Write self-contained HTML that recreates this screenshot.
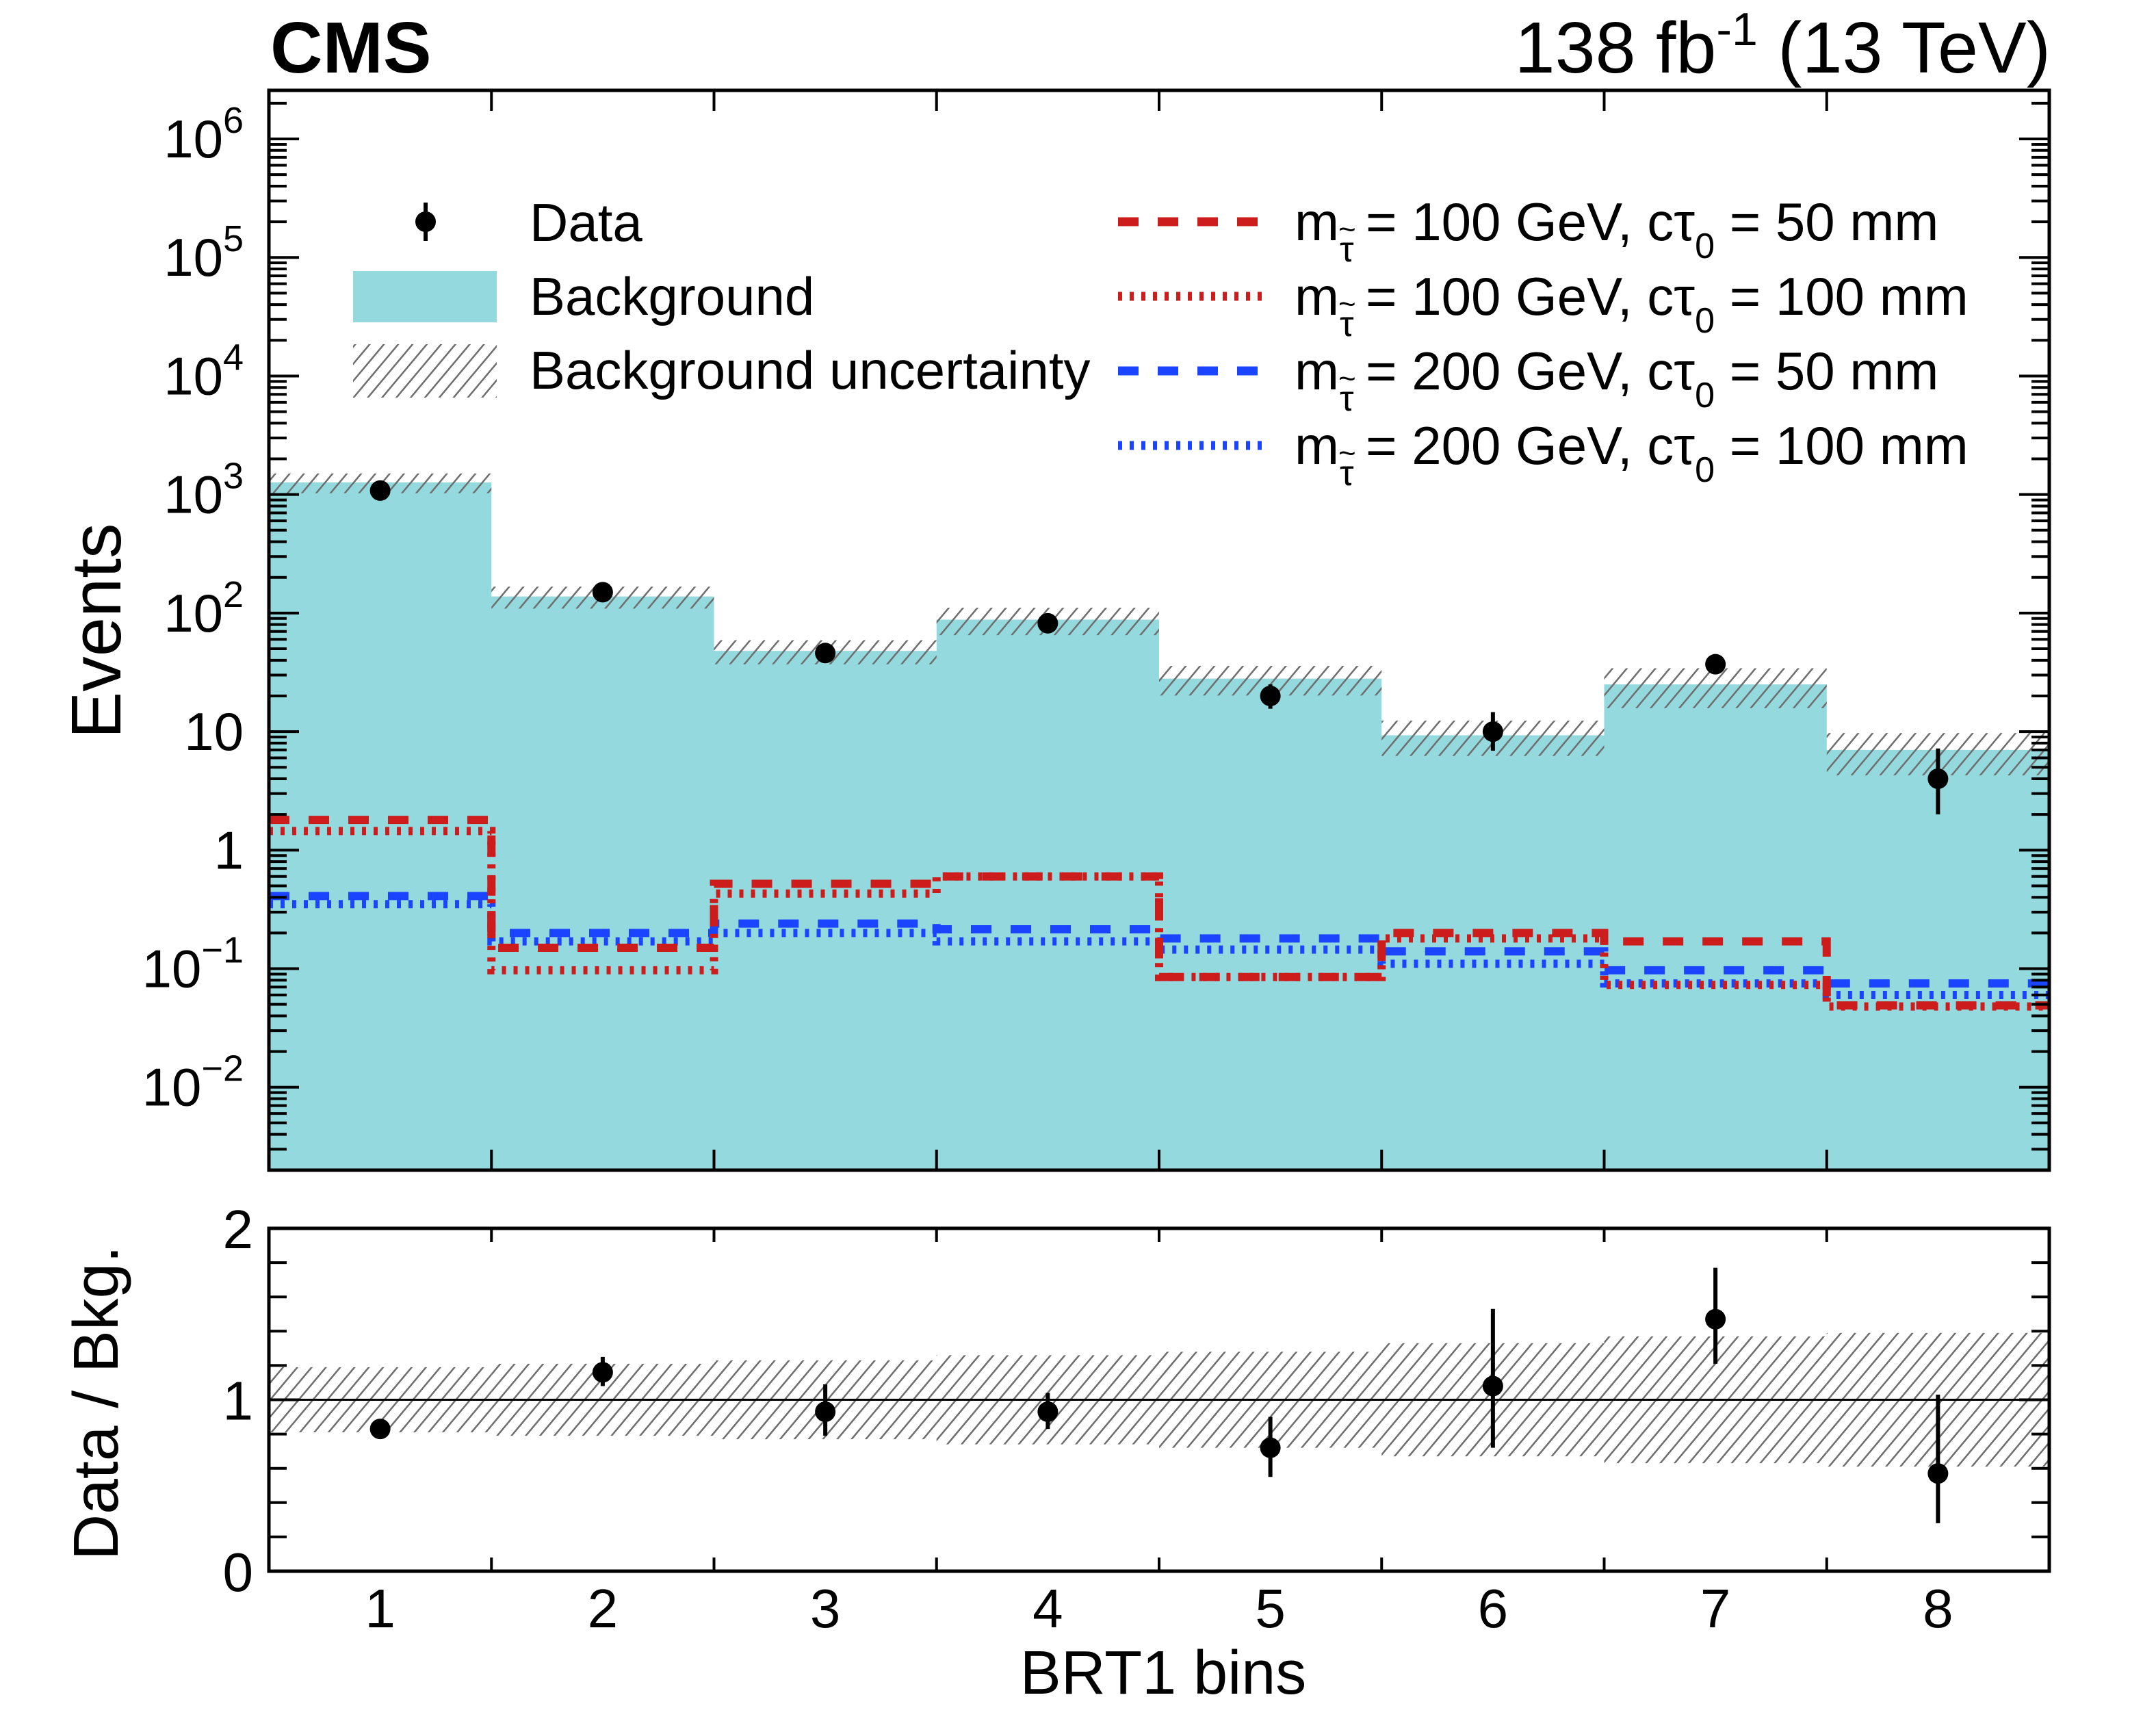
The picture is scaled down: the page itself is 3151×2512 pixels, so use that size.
<!DOCTYPE html>
<html><head><meta charset="utf-8"><style>
html,body{margin:0;padding:0;background:#fff}
svg{display:block;font-family:"Liberation Sans",sans-serif}
</style></head><body>
<svg id="c" width="3151" height="2512" viewBox="0 0 3151 2512" xmlns="http://www.w3.org/2000/svg">
<defs>
<pattern id="hatch" patternUnits="userSpaceOnUse" width="16" height="16" patternTransform="rotate(40)">
<line x1="0" y1="0" x2="0" y2="16" stroke="#6e6e6e" stroke-width="5"/>
</pattern>
</defs>
<g id="main"></g>
</svg>
<script>
const bins=[1,2,3,4,5,6,7,8];
const bkg=[1265,138,48,88,28,9.3,25,7];
const bkgUnc=[0.19,0.21,0.23,0.26,0.28,0.33,0.37,0.39];
const dataVals=[1080,150,46,82,20,10,37,4];
const dataLo=[1048,138,39,73,15.6,6.9,31,2];
const dataHi=[1112,163,53,92,25,14.6,44,7.2];
const ratioVals=[0.83,1.16,0.93,0.93,0.72,1.08,1.47,0.57];
const ratioLo=[0.80,1.08,0.79,0.83,0.55,0.72,1.21,0.28];
const ratioHi=[0.86,1.25,1.09,1.04,0.90,1.53,1.77,1.03];
const sigA=[1.8,0.15,0.52,0.6,0.085,0.2,0.17,0.049];
const sigB=[1.45,0.097,0.43,0.6,0.085,0.18,0.073,0.048];
const sigC=[0.41,0.2,0.24,0.215,0.18,0.14,0.097,0.075];
const sigD=[0.35,0.17,0.2,0.17,0.145,0.11,0.075,0.06];
const yTickExp=[-2,-1,0,1,2,3,4,5,6];
const ratioTicks=[0,1,2];

const NS="http://www.w3.org/2000/svg";
const g=document.getElementById('main');
const L=393,R=2995,T=132,B=1710,RT=1795,RB=2296;
const TOP=6.41,BOT=-2.70;
const bw=(R-L)/bins.length;
function xe(i){return L+i*bw;}
function xc(b){return L+(b-0.5)*bw;}
function ym(v){return T+(TOP-Math.log10(v))/(TOP-BOT)*(B-T);}
function yr(r){return RB-r/2*(RB-RT);}
function el(tag,attrs,parent){const e=document.createElementNS(NS,tag);for(const k in attrs)e.setAttribute(k,attrs[k]);(parent||g).appendChild(e);return e;}

let d='M'+L+','+B;
bins.forEach((b,i)=>{d+=' L'+xe(i)+','+ym(bkg[i])+' L'+xe(i+1)+','+ym(bkg[i]);});
d+=' L'+R+','+B+' Z';
let p=el('path',{d:d,fill:'#94d9de'});


bins.forEach((b,i)=>{
 const y1=ym(bkg[i]*(1+bkgUnc[i])),y2=ym(bkg[i]*(1-bkgUnc[i]));
 const r=el('rect',{x:xe(i),y:y1,width:bw,height:y2-y1,fill:'url(#hatch)'});
 
 
});
function step(vals,color,dash,name){
 let dd='';
 vals.forEach((v,i)=>{dd+=(i?' L':'M')+xe(i)+','+ym(v)+' L'+xe(i+1)+','+ym(v);});
 const s=el('path',{d:dd,fill:'none',stroke:color,'stroke-width':12,'stroke-dasharray':dash});
 
 
}
step(sigC,'#1a44ff','30 28','signal-200gev-50mm');
step(sigD,'#1a44ff','6 11','signal-200gev-100mm');
step(sigA,'#cc1c1c','30 28','signal-100gev-50mm');
step(sigB,'#cc1c1c','6 11','signal-100gev-100mm');
bins.forEach((b,i)=>{
 const l=el('line',{x1:xc(b),x2:xc(b),y1:ym(dataHi[i]),y2:ym(dataLo[i]),stroke:'#000','stroke-width':6});
 
 
 const c=el('circle',{cx:xc(b),cy:ym(dataVals[i]),r:15,fill:'#000'});
 
 
});
let f=el('rect',{x:L,y:T,width:R-L,height:B-T,fill:'none',stroke:'#000','stroke-width':5});


for(let e=-3;e<=6;e++){
 for(let m=1;m<=9;m++){
  const v=m*Math.pow(10,e);const y=ym(v);
  if(y<T||y>B)continue;
  const len=m===1?44:26;
  el('line',{x1:L,x2:L+len,y1:y,y2:y,stroke:'#000','stroke-width':4});
  el('line',{x1:R,x2:R-len,y1:y,y2:y,stroke:'#000','stroke-width':4});
 }
}
yTickExp.forEach(e=>{
 const y=ym(Math.pow(10,e));
 const t=el('text',{x:356,y:y+27,'font-size':78,'text-anchor':'end'});
 
 
 if(e===0)t.textContent='1';
 else if(e===1)t.textContent='10';
 else{
  t.textContent='10';
  const s=el('tspan',{dy:-36,'font-size':54},t);s.textContent=(e<0?'\u2212':'')+Math.abs(e);
 }
});
for(let i=1;i<bins.length;i++){
 el('line',{x1:xe(i),x2:xe(i),y1:B,y2:B-30,stroke:'#000','stroke-width':4});
 el('line',{x1:xe(i),x2:xe(i),y1:T,y2:T+30,stroke:'#000','stroke-width':4});
 el('line',{x1:xe(i),x2:xe(i),y1:RB,y2:RB-20,stroke:'#000','stroke-width':4});
 el('line',{x1:xe(i),x2:xe(i),y1:RT,y2:RT+20,stroke:'#000','stroke-width':4});
}
bins.forEach((b,i)=>{
 const y1=yr(1+bkgUnc[i]),y2=yr(1-bkgUnc[i]);
 const r=el('rect',{x:xe(i),y:y1,width:bw,height:y2-y1,fill:'url(#hatch)'});
 
 
});
let ul=el('line',{x1:L,x2:R,y1:yr(1),y2:yr(1),stroke:'#000','stroke-width':3});


bins.forEach((b,i)=>{
 const l=el('line',{x1:xc(b),x2:xc(b),y1:yr(ratioHi[i]),y2:yr(ratioLo[i]),stroke:'#000','stroke-width':6});
 
 
 const c=el('circle',{cx:xc(b),cy:yr(ratioVals[i]),r:15,fill:'#000'});
 
 
 const t=el('text',{x:xc(b),y:2378,'font-size':80,'text-anchor':'middle'});
 
 
 t.textContent=b;
});
let rf=el('rect',{x:L,y:RT,width:R-L,height:RB-RT,fill:'none',stroke:'#000','stroke-width':5});


for(let k=0;k<=10;k++){
 const y=yr(k*0.2);const len=(k%5===0)?44:26;
 el('line',{x1:L,x2:L+len,y1:y,y2:y,stroke:'#000','stroke-width':4});
 el('line',{x1:R,x2:R-len,y1:y,y2:y,stroke:'#000','stroke-width':4});
}
ratioTicks.forEach(v=>{
 const t=el('text',{x:370,y:yr(v)+29,'font-size':80,'text-anchor':'end'});
 
 
 t.textContent=v;
});
function txt(x,y,s,size,name,extra){const t=el('text',Object.assign({x:x,y:y,'font-size':size},extra||{}));t.textContent=s;return t;}
txt(395,106,'CMS',106,'cms-label',{'font-weight':'bold'});
let lum=txt(2997,106,'138 fb',106,'luminosity-label',{'text-anchor':'end'});
let sup=el('tspan',{dy:-40,'font-size':68},lum);sup.textContent='-1';
let rest=el('tspan',{dy:40},lum);rest.textContent=' (13 TeV)';
txt(0,0,'Events',103,'y-axis-title',{transform:'translate(176,922) rotate(-90)','text-anchor':'middle'});
txt(0,0,'Data / Bkg.',93,'ratio-y-axis-title',{transform:'translate(172,2050) rotate(-90)','text-anchor':'middle'});
txt(1700,2475,'BRT1 bins',90,'x-axis-title',{'text-anchor':'middle'});
const lg=el('g',{});
el('line',{x1:622,x2:622,y1:296,y2:352,stroke:'#000','stroke-width':6},lg);
el('circle',{cx:622,cy:324,r:15,fill:'#000'},lg);
txt(774,352,'Data',78,'legend-data-label');
el('rect',{x:516,y:396,width:210,height:75,fill:'#94d9de'},lg);
txt(774,460,'Background',78,'legend-background-label');
el('rect',{x:516,y:503,width:210,height:78,fill:'url(#hatch)'},lg);
txt(774,568,'Background uncertainty',78,'legend-uncertainty-label');
const sigLeg=[['#cc1c1c','30 28','100','50'],['#cc1c1c','6 11','100','100'],['#1a44ff','30 28','200','50'],['#1a44ff','6 11','200','100']];
sigLeg.forEach((s,k)=>{
 const y=324+k*109;
 const ln=el('line',{x1:1634,x2:1844,y1:y,y2:y,stroke:s[0],'stroke-width':13,'stroke-dasharray':s[1]},lg);
 
 
 const x0=1892;
 txt(x0,y+27,'m',78,'legend-signal-label');
 txt(x0+66,y+58,'\u03C4',52,'legend-signal-subscript');
 txt(x0+64,y+26,'~',44,'legend-signal-tilde');
 const t=txt(x0+104,y+27,'= '+s[2]+' GeV, c\u03C4',78,'legend-signal-label');
 const c=el('tspan',{dy:26,'font-size':52},t);c.textContent='0';
 const e=el('tspan',{dy:-26},t);e.textContent=' = '+s[3]+' mm';
});
</script>
</body></html>
